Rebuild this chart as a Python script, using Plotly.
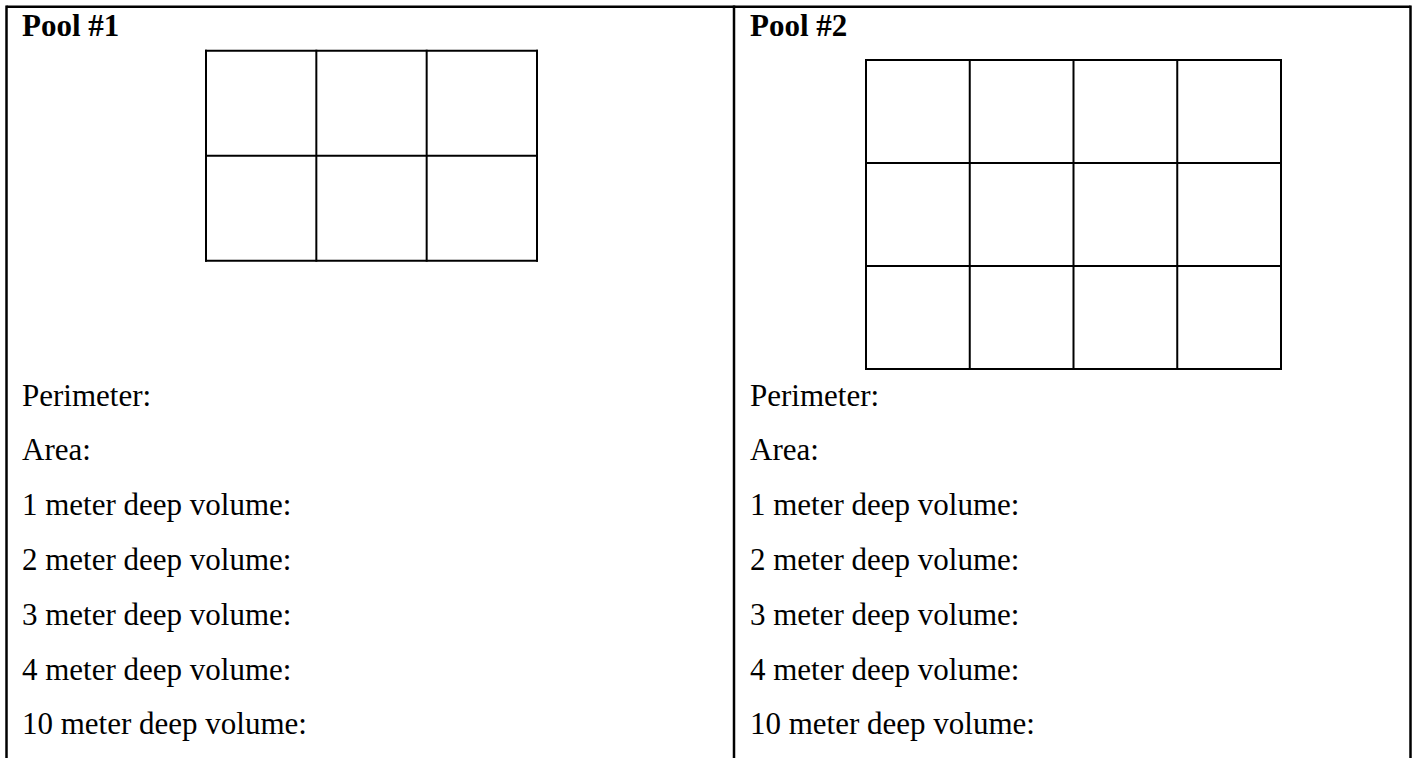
import plotly.graph_objects as go

# ---- data ----
pool_titles = ["Pool #1", "Pool #2"]
grid_rows = [2, 3]
grid_cols = [3, 4]
question_labels = [
    "Perimeter:",
    "Area:",
    "1 meter deep volume:",
    "2 meter deep volume:",
    "3 meter deep volume:",
    "4 meter deep volume:",
    "10 meter deep volume:",
]

# ---- layout constants ----
W, H = 1416, 758
FONT = "Liberation Serif, Times New Roman, serif"
FS = 31
col_left = [20.5, 748.5]
table_x = [6.5, 734, 1410.5]
table_top = 6.7
grid_boxes = [(206, 50.7, 537, 260.7), (866, 60, 1281, 369)]
title_baseline = 35.7
label_baseline0 = 405
label_step = 54.8
BASE_OFFSET = 0.32 * FS  # baseline -> text box centre

fig = go.Figure()
shapes = []
line_blk = dict(color="black", width=2.5)

# outer table borders
shapes.append(dict(type="line", x0=table_x[0], x1=table_x[-1], y0=table_top, y1=table_top,
                   xref="x", yref="y", line=line_blk))
for tx in table_x:
    shapes.append(dict(type="line", x0=tx, x1=tx, y0=table_top - 1.2, y1=H + 5,
                       xref="x", yref="y", line=line_blk))

# grids
for (gx0, gy0, gx1, gy1), nr, nc in zip(grid_boxes, grid_rows, grid_cols):
    cw = (gx1 - gx0) / nc
    rh = (gy1 - gy0) / nr
    for c in range(nc + 1):
        x = gx0 + c * cw
        shapes.append(dict(type="line", x0=x, x1=x, y0=gy0 - 1, y1=gy1 + 1,
                           xref="x", yref="y", line=dict(color="black", width=2)))
    for r in range(nr + 1):
        y = gy0 + r * rh
        shapes.append(dict(type="line", x0=gx0 - 1, x1=gx1 + 1, y0=y, y1=y,
                           xref="x", yref="y", line=dict(color="black", width=2)))

annotations = []
for i, title in enumerate(pool_titles):
    annotations.append(dict(x=col_left[i], y=title_baseline - BASE_OFFSET, xref="x", yref="y",
                            text="<b>" + title + "</b>", showarrow=False,
                            xanchor="left", yanchor="middle", borderpad=0,
                            font=dict(family=FONT, size=FS, color="black")))
    for j, lab in enumerate(question_labels):
        annotations.append(dict(x=col_left[i], y=label_baseline0 + j * label_step - BASE_OFFSET,
                                xref="x", yref="y", text=lab, showarrow=False,
                                xanchor="left", yanchor="middle", borderpad=0,
                                font=dict(family=FONT, size=FS, color="black")))

fig.update_layout(
    width=W, height=H,
    margin=dict(l=0, r=0, t=0, b=0),
    paper_bgcolor="white", plot_bgcolor="white",
    xaxis=dict(range=[0, W], visible=False, fixedrange=True),
    yaxis=dict(range=[H, 0], visible=False, fixedrange=True),
    shapes=shapes, annotations=annotations, showlegend=False,
)

fig.write_html(
    "out.html",
    config={"displayModeBar": False},
    post_script="document.body.style.margin='0';document.body.style.overflow='hidden';",
)
